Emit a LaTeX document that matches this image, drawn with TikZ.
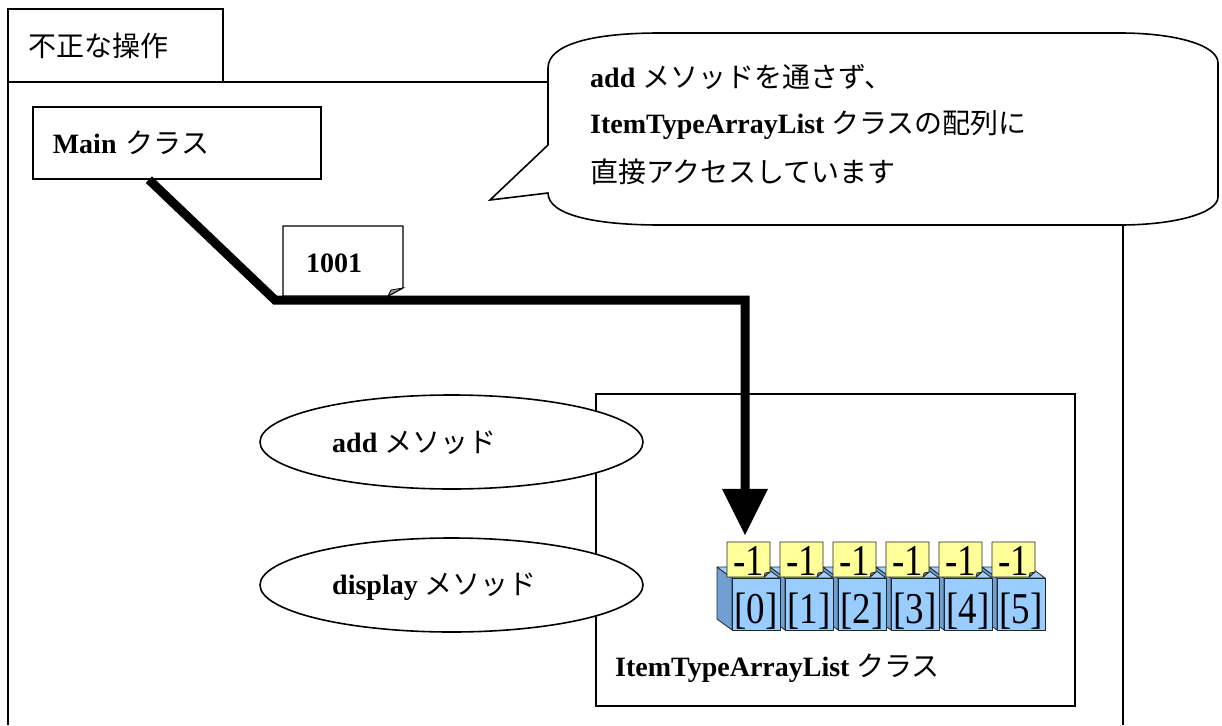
\documentclass[tikz,border=0pt]{standalone}
\usepackage{fontspec}
\setmainfont{Liberation Serif}
\newfontfamily\cjk{Noto Sans CJK JP}
\usetikzlibrary{arrows.meta}

\definecolor{frontblue}{HTML}{99CCFF}
\definecolor{topblue}{HTML}{A3D1FF}
\definecolor{sideblue}{HTML}{6F9FD3}
\definecolor{notey}{HTML}{FFFF99}

\begin{document}
\begin{tikzpicture}[x=1pt,y=-1pt,
  outline/.style={draw=black, line width=1.6pt},
  lbl/.style={font=\fontsize{28}{32}\selectfont, inner sep=0pt, anchor=west},
  bigtxt/.style={font=\fontsize{44}{48}\selectfont, inner sep=0pt, anchor=base},
  thin/.style={draw=black!85, line width=0.8pt, line join=round},
  conn/.style={line width=9pt, line join=miter,
    -{Triangle[length=46pt, width=46pt, line width=0.5pt]}}
]
\useasboundingbox (0,0) rectangle (1222,725);
\fill[white] (0,0) rectangle (1222,725);

% outer frame with its title tab
\draw[outline] (8,725) -- (8,82) -- (1123,82) -- (1123,725);
\draw[outline] (8,82) -- (8,9) -- (223,9) -- (223,82);
\node[lbl] (title) at (28,46) {\cjk 不正な操作};

% Main class box
\node[outline, anchor=north west, minimum width=288pt, minimum height=72pt,
      text width=248pt, inner xsep=20pt, inner ysep=0pt, align=left,
      font=\fontsize{28}{32}\selectfont] (main) at (32,106)
      {\bfseries Main \cjk\mdseries クラス};

% speech bubble
\draw[outline, fill=white, line join=miter]
  (548,145) -- (548,68) .. controls (548,45) and (590,33) .. (660,33)
  -- (1120,33) .. controls (1175,33) and (1218,45) .. (1218,63)
  -- (1218,197) .. controls (1218,213) and (1175,225) .. (1120,225)
  -- (660,225) .. controls (595,225) and (548,215) .. (548,193)
  -- (490,200) -- cycle;
\node[lbl] (t1) at (590,77) {\bfseries add \cjk\mdseries メソッドを通さず、};
\node[lbl] (t2) at (590,125) {\bfseries ItemTypeArrayList \cjk\mdseries クラスの配列に};
\node[lbl] (t3) at (590,172) {\cjk 直接アクセスしています};

% ItemTypeArrayList class box
\draw[outline] (596,394) rectangle (1075,706);
\node[lbl] (cls) at (615,668) {\bfseries ItemTypeArrayList \cjk\mdseries クラス};

% method ellipses
\draw[outline, fill=white] (451.5,442) ellipse (191.5 and 47);
\node[lbl] (add) at (332,443) {\bfseries add \cjk\mdseries メソッド};
\draw[outline, fill=white] (451.5,585) ellipse (191.5 and 47);
\node[lbl] (disp) at (332,587) {\bfseries display \cjk\mdseries メソッド};

% array cells as small cubes
\foreach \i in {5,4,...,0} {
  \pgfmathsetmacro\xa{732+53*\i}
  \filldraw[thin, fill=sideblue] (\xa-15,567) -- (\xa,578) -- (\xa,630) -- (\xa-15,619) -- cycle;
  \filldraw[thin, fill=topblue] (\xa-15,567) -- (\xa+33,567) -- (\xa+48,578) -- (\xa,578) -- cycle;
  \filldraw[thin, fill=frontblue] (\xa,578) rectangle (\xa+48,630);
  \node[bigtxt] (c\i) at (\xa+24,623) {\scalebox{0.84}[1]{[\i]}};
}
% value stickers on the cells
\foreach \i in {0,...,5} {
  \pgfmathsetmacro\xa{732+53*\i}
  \filldraw[thin, fill=notey] (\xa-5,542) -- (\xa+38,542) -- (\xa+38,572) -- (\xa+32,577) -- (\xa-5,577) -- cycle;
  \filldraw[thin, fill=black!45] (\xa+38,572) -- (\xa+33,573) -- (\xa+32,577) -- cycle;
  \node[minimum width=43pt, minimum height=35pt, inner sep=0pt] (n\i) at (\xa+16.5,559.5) {};
  \node[bigtxt] (v\i) at (\xa+16.5,575) {\scalebox{0.84}[1]{-1}};
}

% direct access path from Main to the array
\coordinate (b1) at (275,300);
\coordinate (b2) at (745,300);
\draw[conn] ([xshift=-28pt]main.south) -- (b1) -- (b2) -- ([xshift=-3.5pt,yshift=7pt]n0.north);

% value sticker on the path
\filldraw[draw=black, line width=1.2pt, fill=white, line join=round]
  (283,226) -- (403,226) -- (403,288) -- (388,296) -- (283,296) -- cycle;
\filldraw[draw=black, line width=0.8pt, fill=black!40] (403,288) -- (391,290) -- (388,296) -- cycle;
\node[lbl] (val) at (306,263) {\bfseries 1001};
\end{tikzpicture}
\end{document}
